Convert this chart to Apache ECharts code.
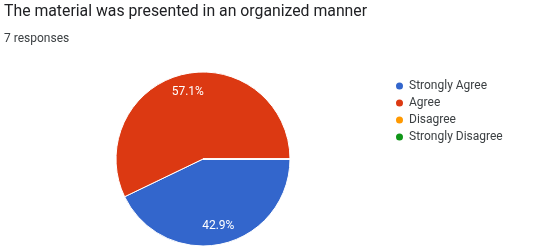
<!DOCTYPE html>
<html><head><meta charset="utf-8">
<script src="https://cdn.jsdelivr.net/npm/echarts@6/dist/echarts.min.js"></script>
<style>html,body{margin:0;padding:0;background:#fff}#c{width:544px;height:252px}</style>
</head><body><div id="c"></div>
<script>
const titleText = "The material was presented in an organized manner";
const subtitleText = "7 responses";
const categories = ["Strongly Agree", "Agree", "Disagree", "Strongly Disagree"];
const counts = [3, 4, 0, 0];
const colors = ["#3366cc", "#dc3912", "#ff9900", "#109618"];

const data = categories.map((c, i) => ({ name: c, value: counts[i] }));
const chart = echarts.init(document.getElementById('c'), null, { renderer: 'canvas' });
chart.setOption({
  animation: false,
  color: colors,
  title: [
    { text: titleText, left: 4, top: 4, padding: 0, textStyle: { fontFamily: 'Roboto', fontSize: 15.8, fontWeight: 'normal', color: '#202124' } },
    { text: subtitleText, left: 4, top: 33, padding: 0, textStyle: { fontFamily: 'Roboto', fontSize: 12, fontWeight: 'normal', color: '#3c4043' } }
  ],
  legend: {
    orient: 'vertical', left: 394, top: 80, padding: 0,
    icon: 'circle', itemWidth: 9, itemHeight: 9, itemGap: 5,
    textStyle: { fontFamily: 'Roboto', fontSize: 12, color: '#3c4043', lineHeight: 12 },
    data: categories
  },
  series: [
    {
      type: 'pie', center: [203, 159], radius: [0, 87],
      startAngle: 0, clockwise: true,
      label: { show: false }, labelLine: { show: false },
      itemStyle: { borderColor: '#fff', borderWidth: 1 },
      emphasis: { disabled: true },
      data: data
    },
    {
      type: 'pie', center: [203, 159], radius: [44, 87],
      startAngle: 0, clockwise: true, silent: true,
      itemStyle: { color: 'transparent' },
      legendHoverLink: false,
      label: {
        show: true, position: 'inside', color: '#fff', fontFamily: 'Roboto', fontSize: 12,
        formatter: p => p.value > 0 ? p.percent.toFixed(1) + '%' : ''
      },
      labelLine: { show: false },
      emphasis: { disabled: true },
      data: data.map(d => ({ name: d.name, value: d.value }))
    }
  ]
});
</script></body></html>
